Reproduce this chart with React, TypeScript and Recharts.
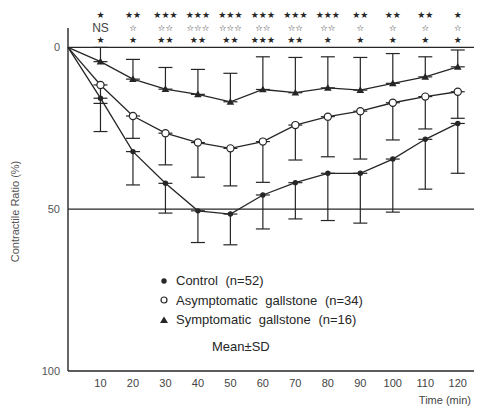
import React from 'react'
import { LineChart, Line, XAxis, YAxis, ErrorBar, ReferenceLine } from 'recharts'

const times = [0, 10, 20, 30, 40, 50, 60, 70, 80, 90, 100, 110, 120]
const control = [0, 15.7, 32.2, 42, 50.5, 51.5, 45.6, 41.8, 38.9, 38.9, 34.5, 28.4, 23.5]
const controlSD = [null, 10.3, 10.3, 9.2, 9.8, 9.5, 10.5, 11.2, 14.6, 15.4, 16.4, 15.4, 15.4]
const asym = [0, 11.6, 21.2, 26.5, 29.4, 31.2, 29.1, 24, 21.4, 19.7, 17.1, 15.2, 13.7]
const asymSD = [null, 5.7, 6.9, 9.8, 10.7, 11.6, 12.6, 10.8, 12.4, 14.8, 11.5, 10, 8.2]
const sym = [0, 4.4, 9.8, 12.9, 14.5, 16.8, 13, 14, 12.5, 13.2, 11.1, 9.1, 6.0]
const symSD = [null, 4.4, 6.1, 6.7, 7.7, 8.8, 10.1, 10.9, 9.6, 10.1, 9.2, 6.2, 5.2]

const xTicks = [10, 20, 30, 40, 50, 60, 70, 80, 90, 100, 110, 120]
const yTicks = [0, 50, 100]

const seriesNames = ['Control (n=52)', 'Asymptomatic gallstone (n=34)', 'Symptomatic gallstone (n=16)']

// significance marks above each time point (three rows)
const sigRow1 = ['★', '★★', '★★★', '★★★', '★★★', '★★★', '★★★', '★★★', '★★', '★★', '★★', '★']
const sigRow2 = ['NS', '☆', '☆☆', '☆☆☆', '☆☆☆', '☆☆', '☆☆', '☆☆', '☆', '☆', '☆', '☆']
const sigRow3 = ['★', '★', '★★', '★★', '★★', '★★★', '★★', '★', '★', '★', '★', '★']

const INK = '#262626'
const FONT = "'Liberation Sans', Arial, sans-serif"

const data = times.map((t, i) => ({
  t,
  control: control[i],
  controlErr: controlSD[i] == null ? null : [0, controlSD[i]],
  asym: asym[i],
  asymErr: asymSD[i] == null ? null : [0, asymSD[i]],
  sym: sym[i],
  symErr: symSD[i] == null ? null : [symSD[i], 0],
}))

const FilledDot = (props: any) => {
  const { cx, cy, payload, index } = props
  if (payload.t === 0) return <g key={index} />
  return <circle key={index} cx={cx} cy={cy} r={2.7} fill={INK} />
}

const OpenDot = (props: any) => {
  const { cx, cy, payload, index } = props
  if (payload.t === 0) return <g key={index} />
  return <circle key={index} cx={cx} cy={cy} r={3.6} fill="#fff" stroke={INK} strokeWidth={1.2} />
}

const TriDot = (props: any) => {
  const { cx, cy, payload, index } = props
  if (payload.t === 0) return <g key={index} />
  const s = 3.8
  return (
    <polygon
      key={index}
      points={`${cx},${cy - s} ${cx - s},${cy + s * 0.75} ${cx + s},${cy + s * 0.75}`}
      fill={INK}
    />
  )
}

const SigTick = (props: any) => {
  const { x, payload } = props
  const i = xTicks.indexOf(payload.value)
  if (i < 0) return null
  const r2 = sigRow2[i]
  return (
    <g>
      <text x={x} y={15} textAnchor="middle" dominantBaseline="central" fontSize={9} fill={INK} fontFamily="DejaVu Sans">
        {sigRow1[i]}
      </text>
      <text
        x={x}
        y={28}
        textAnchor="middle"
        dominantBaseline="central"
        fontSize={r2 === 'NS' ? 12 : 8.5}
        fill={r2 === 'NS' ? '#444' : INK}
        fontFamily={r2 === 'NS' ? FONT : 'DejaVu Sans'}
      >
        {r2}
      </text>
      <text x={x} y={40} textAnchor="middle" dominantBaseline="central" fontSize={9} fill={INK} fontFamily="DejaVu Sans">
        {sigRow3[i]}
      </text>
    </g>
  )
}

const YLabel = (props: any) => {
  const { viewBox } = props
  const cx = viewBox.x + 15
  const cy = viewBox.y + viewBox.height / 2 + 12
  return (
    <text
      x={cx}
      y={cy}
      transform={`rotate(-90 ${cx} ${cy})`}
      textAnchor="middle"
      dominantBaseline="central"
      fontSize={11}
      fill="#555"
      fontFamily={FONT}
    >
      Contractile Ratio (%)
    </text>
  )
}

const legendSymbols = [
  <circle cx={5} cy={5} r={2.7} fill={INK} />,
  <circle cx={5} cy={5} r={3} fill="#fff" stroke={INK} strokeWidth={1.2} />,
  <polygon points="5,1.5 1,8 9,8" fill={INK} />,
]

export default function App() {
  return (
    <div style={{ width: 485, height: 407, background: '#fff', position: 'relative' }}>
      <style>{`body{margin:0}`}</style>
      <LineChart
        width={485}
        height={407}
        data={data}
        margin={{ top: 0, right: 11, bottom: 0, left: 0 }}
        style={{ fontFamily: FONT }}
      >
        <XAxis
          dataKey="t"
          type="number"
          domain={[0, 125]}
          ticks={xTicks}
          interval={0}
          tickLine={false}
          axisLine={{ stroke: INK, strokeWidth: 1.4 }}
          tick={{ fontSize: 11, fill: '#444' }}
          height={36}
          label={{ value: 'Time (min)', position: 'insideBottomRight', offset: 3, fontSize: 11, fill: '#444' }}
        />
        <XAxis
          xAxisId="top"
          dataKey="t"
          type="number"
          orientation="top"
          domain={[0, 125]}
          ticks={xTicks}
          interval={0}
          tickLine={false}
          axisLine={false}
          tick={<SigTick />}
          height={28}
        />
        <YAxis
          type="number"
          reversed
          domain={[-6, 100]}
          ticks={yTicks}
          interval={0}
          tickLine={false}
          axisLine={{ stroke: INK, strokeWidth: 1.4 }}
          tick={{ fontSize: 11, fill: '#555' }}
          width={68}
          label={<YLabel />}
        />
        <ReferenceLine y={0} stroke={INK} strokeWidth={1.2} />
        <ReferenceLine y={50} stroke={INK} strokeWidth={1.2} />
        <Line
          dataKey="control"
          name={seriesNames[0]}
          stroke={INK}
          strokeWidth={1.3}
          dot={FilledDot}
          isAnimationActive={false}
        >
          <ErrorBar dataKey="controlErr" direction="y" width={7} stroke={INK} strokeWidth={1.2} />
        </Line>
        <Line
          dataKey="asym"
          name={seriesNames[1]}
          stroke={INK}
          strokeWidth={1.3}
          dot={OpenDot}
          isAnimationActive={false}
        >
          <ErrorBar dataKey="asymErr" direction="y" width={7} stroke={INK} strokeWidth={1.2} />
        </Line>
        <Line
          dataKey="sym"
          name={seriesNames[2]}
          stroke={INK}
          strokeWidth={1.3}
          dot={TriDot}
          isAnimationActive={false}
        >
          <ErrorBar dataKey="symErr" direction="y" width={7} stroke={INK} strokeWidth={1.2} />
        </Line>
      </LineChart>
      <div
        style={{
          position: 'absolute',
          left: 159,
          top: 271,
          fontFamily: FONT,
          fontSize: 13,
          color: INK,
          lineHeight: '19.5px',
        }}
      >
        {seriesNames.map((name, i) => (
          <div key={name} style={{ display: 'flex', alignItems: 'center' }}>
            <svg width={10} height={10} style={{ marginRight: 7 }}>
              {legendSymbols[i]}
            </svg>
            <span style={{ wordSpacing: 4 }}>{name}</span>
          </div>
        ))}
        <div style={{ marginLeft: 53, marginTop: 7 }}>Mean±SD</div>
      </div>
    </div>
  )
}
